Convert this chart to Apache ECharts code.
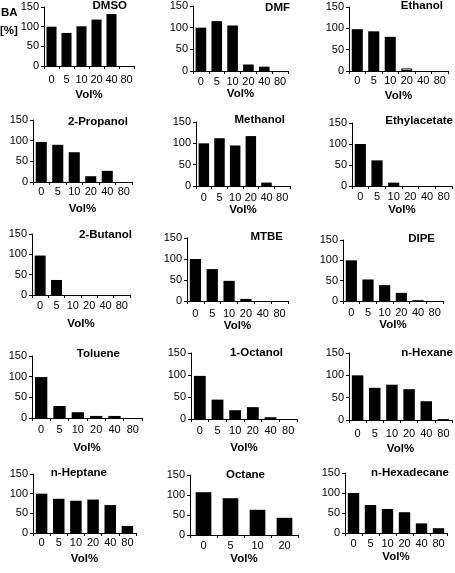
<!DOCTYPE html>
<html><head><meta charset="utf-8">
<script src="https://cdn.jsdelivr.net/npm/echarts@6/dist/echarts.min.js"></script>
<style>html,body{margin:0;padding:0;background:#fff}#c{width:455px;height:573px}</style>
</head><body><div id="c"></div>
<script>
// ---- data ----
const categories = ['0', '5', '10', '20', '40', '80'];
const octaneCategories = ['0', '5', '10', '20'];
const yTicks = [0, 50, 100, 150];
const panelTitles = ['DMSO', 'DMF', 'Ethanol', '2-Propanol', 'Methanol', 'Ethylacetate',
  '2-Butanol', 'MTBE', 'DIPE', 'Toluene', '1-Octanol', 'n-Hexane', 'n-Heptane', 'Octane', 'n-Hexadecane'];
const dmso = [100, 84, 101, 118, 132, 0];
const dmf = [100, 115, 105, 15, 10, 0];
const ethanol = [98, 93, 80, 6, 0, 0];
const propanol2 = [97, 90, 72, 14, 27, 0];
const methanol = [100, 112, 95, 117, 8, 0];
const ethylacetate = [100, 61, 8, 0, 0, 0];
const butanol2 = [97, 37, 0, 0, 0, 0];
const mtbe = [100, 76, 48, 5, 0, 0];
const dipe = [100, 53, 39, 20, 2, 0];
const toluene = [99, 29, 14, 5, 5, 0];
const octanol1 = [98, 44, 20, 27, 4, 0];
const nHexane = [100, 72, 79, 69, 42, 2];
const nHeptane = [100, 87, 82, 85, 71, 18];
const octane = [107, 92, 63, 43];
const nHexadecane = [100, 70, 60, 52, 24, 12];
const seriesValues = [dmso, dmf, ethanol, propanol2, methanol, ethylacetate, butanol2, mtbe, dipe,
  toluene, octanol1, nHexane, nHeptane, octane, nHexadecane];
const panelCategories = seriesValues.map(v => v.length === 4 ? octaneCategories : categories);
const xAxisName = 'Vol%';
const yAxisNameLines = ['BA', '[%]'];
const hollowPoint = { panel: 2, index: 3 }; // Ethanol 20 vol% drawn as outline

// ---- layout: [left, top, width, height, labelMargin, nameGap, titleRightX, titleCenterY] ----
const layout = [
  [44, 7, 90, 59, 8, 23, 127, 7],
  [193, 6, 95, 65, 5, 13, 290, 9],
  [349, 7, 99, 64, 4, 19, 443, 7],
  [33, 120, 99, 62, 4, 21, 128, 123],
  [196, 122, 94, 64, 6, 18, 285, 121],
  [352, 123, 100, 63, 5, 18, 453, 122],
  [32, 234, 98, 61, 5, 23, 132, 236],
  [187, 238, 101, 63, 7, 18, 283, 238],
  [343, 240, 100, 61, 6, 17, 435, 240],
  [32, 356, 110, 62, 6, 24, 120, 355],
  [191, 353, 106, 66, 6, 23, 283, 354],
  [349, 353, 103, 67, 8, 23, 453, 354],
  [33, 474, 103, 59, 4, 20, 107, 474],
  [190, 475, 108, 60, 5, 18, 265, 476],
  [345, 473, 102, 60, 5, 18, 449, 474]
];

const FONT = 'Liberation Sans, Arial, sans-serif';
const grid = [], xAxis = [], yAxis = [], series = [], title = [];
seriesValues.forEach((vals, i) => {
  const L = layout[i];
  grid.push({ left: L[0], top: L[1], width: L[2], height: L[3], containLabel: false });
  xAxis.push({
    type: 'category', gridIndex: i, data: panelCategories[i],
    axisLine: { show: true, lineStyle: { color: '#000', width: 1 } },
    axisTick: { show: true, length: 3, lineStyle: { color: '#000' } },
    axisLabel: { color: '#000', fontSize: 11, fontFamily: FONT, margin: L[4], interval: 0 },
    name: xAxisName, nameLocation: 'middle', nameGap: L[5],
    nameTextStyle: { color: '#000', fontSize: 11.5, fontWeight: 'bold', fontFamily: FONT },
    splitLine: { show: false }
  });
  yAxis.push({
    type: 'value', gridIndex: i, min: yTicks[0], max: yTicks[yTicks.length - 1],
    interval: yTicks[1] - yTicks[0],
    axisLine: { show: true, lineStyle: { color: '#000', width: 1 } },
    axisTick: { show: true, length: 3, lineStyle: { color: '#000' } },
    axisLabel: { color: '#000', fontSize: 11, fontFamily: FONT, margin: 5 },
    splitLine: { show: false }
  });
  series.push({
    type: 'bar', xAxisIndex: i, yAxisIndex: i, barCategoryGap: vals.length === 4 ? '42%' : '33%',
    itemStyle: { color: '#000' }, silent: true, animation: false,
    data: vals.map((v, j) => (i === hollowPoint.panel && j === hollowPoint.index)
      ? { value: v, itemStyle: { color: '#fff', borderColor: '#000', borderWidth: 1 } } : v)
  });
  title.push({
    text: panelTitles[i], right: 455 - L[6], top: L[7] - 7, padding: 0,
    textStyle: { color: '#000', fontSize: 11.5, fontWeight: 'bold', fontFamily: FONT }
  });
});
title.push({ text: yAxisNameLines[0], left: 1, top: 7, padding: 0,
  textStyle: { color: '#000', fontSize: 11.5, fontWeight: 'bold', fontFamily: FONT } });
title.push({ text: yAxisNameLines[1], left: 0, top: 25, padding: 0,
  textStyle: { color: '#000', fontSize: 11.5, fontWeight: 'bold', fontFamily: FONT } });

const chart = echarts.init(document.getElementById('c'), null, { renderer: 'canvas' });
chart.setOption({ animation: false, backgroundColor: '#fff', title, grid, xAxis, yAxis, series });
</script></body></html>
